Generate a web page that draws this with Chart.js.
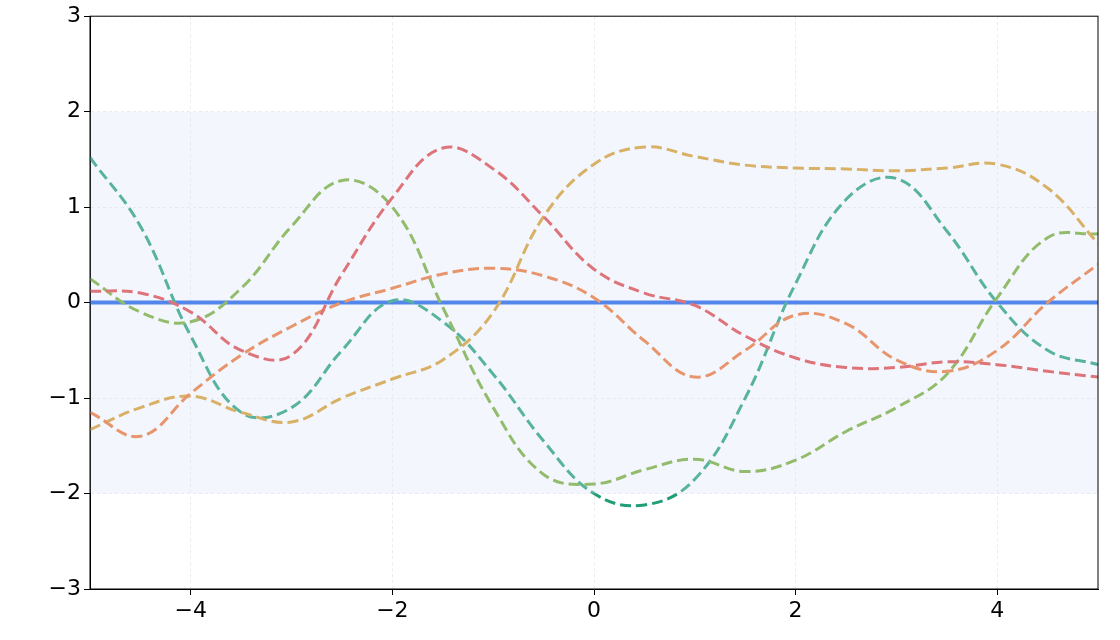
<!DOCTYPE html>
<html>
<head>
<meta charset="utf-8">
<script src="https://cdn.jsdelivr.net/npm/chart.js@4"></script>
<style>
  html, body { margin: 0; padding: 0; background: #fff; }
  #wrap { width: 1120px; height: 640px; }
</style>
</head>
<body>
<div id="wrap"><canvas id="chart"></canvas></div>
<script>
// x positions shared by all samples
const xs = [-5, -4.5, -4, -3.5, -3, -2.5, -2, -1.5, -1, -0.5, 0, 0.5, 1, 1.5, 2, 2.5, 3, 3.5, 4, 4.5, 5];

const redVals    = [0.12, 0.1, -0.1, -0.5, -0.55, 0.3, 1.1, 1.62, 1.4, 0.9, 0.35, 0.1, -0.03, -0.35, -0.58, -0.68, -0.68, -0.62, -0.65, -0.72, -0.78];
const orangeVals = [-1.15, -1.4, -0.95, -0.55, -0.25, 0.0, 0.15, 0.3, 0.36, 0.28, 0.05, -0.4, -0.78, -0.5, -0.13, -0.22, -0.6, -0.72, -0.5, 0.0, 0.4];
const goldVals   = [-1.33, -1.1, -0.98, -1.15, -1.25, -1.0, -0.8, -0.6, -0.1, 0.9, 1.45, 1.63, 1.53, 1.44, 1.41, 1.4, 1.38, 1.41, 1.45, 1.2, 0.62];
const greenVals  = [0.25, -0.1, -0.2, 0.15, 0.8, 1.28, 1.0, -0.05, -1.1, -1.8, -1.9, -1.75, -1.64, -1.77, -1.65, -1.35, -1.1, -0.75, 0.05, 0.68, 0.72];
const tealVals   = [1.52, 0.8, -0.35, -1.15, -1.1, -0.5, 0.02, -0.2, -0.75, -1.45, -2.0, -2.12, -1.85, -1.0, 0.2, 1.08, 1.3, 0.75, 0.0, -0.5, -0.65];
const meanVals   = xs.map(() => 0);
const bandUpper  = xs.map(() => 2);
const bandLower  = xs.map(() => -2);

const yTicks = [-3, -2, -1, 0, 1, 2, 3];
const xTicks = [-4, -2, 0, 2, 4];

const pts = vals => vals.map((v, i) => ({ x: xs[i], y: v }));
const fmt = v => (v < 0 ? '\u2212' + Math.abs(v) : '' + v);

function sample(vals, color) {
  return { data: pts(vals), borderColor: color, borderWidth: 3, borderDash: [11, 5], pointRadius: 0, tension: 0.4, fill: false };
}

// black frame around plot area
const frame = {
  id: 'frame',
  afterDraw(chart) {
    const a = chart.chartArea, c = chart.ctx;
    c.save();
    c.strokeStyle = '#000';
    c.lineWidth = 1;
    c.strokeRect(a.left, a.top, a.right - a.left, a.bottom - a.top);
    c.restore();
  }
};

new Chart(document.getElementById('chart'), {
  type: 'line',
  data: {
    datasets: [
      { data: pts(bandUpper), borderWidth: 0, pointRadius: 0, fill: '+1', backgroundColor: 'rgba(215,228,248,0.3)' },
      { data: pts(bandLower), borderWidth: 0, pointRadius: 0, fill: false },
      sample(redVals, '#e04444'),
      sample(orangeVals, '#ee7330'),
      sample(goldVals, '#d89a28'),
      sample(greenVals, '#74ab30'),
      sample(tealVals, '#219e78'),
      { data: pts(meanVals), borderColor: '#1a5ee6', borderWidth: 4, pointRadius: 0, fill: false }
    ]
  },
  options: {
    responsive: true,
    maintainAspectRatio: false,
    animation: false,
    layout: { padding: { top: 11, right: 22 } },
    plugins: { legend: { display: false }, tooltip: { enabled: false } },
    scales: {
      x: {
        type: 'linear', min: -5, max: 5,
        afterBuildTicks: s => { s.ticks = xTicks.map(v => ({ value: v })); },
        afterFit: s => { s.height = 51; },
        grid: { color: 'rgba(0,0,0,0.08)', tickLength: 6, tickColor: '#000' },
        border: { dash: [3, 3], color: '#000' },
        ticks: { color: '#000', font: { family: 'DejaVu Sans', size: 22 }, callback: fmt, maxRotation: 0 }
      },
      y: {
        min: -3, max: 3,
        afterBuildTicks: s => { s.ticks = yTicks.map(v => ({ value: v })); },
        afterFit: s => { s.width = 90; },
        grid: { color: 'rgba(0,0,0,0.08)', tickLength: 6, tickColor: '#000' },
        border: { dash: [3, 3], color: '#000' },
        ticks: { color: '#000', font: { family: 'DejaVu Sans', size: 22 }, callback: fmt }
      }
    }
  },
  plugins: [frame]
});
</script>
</body>
</html>
